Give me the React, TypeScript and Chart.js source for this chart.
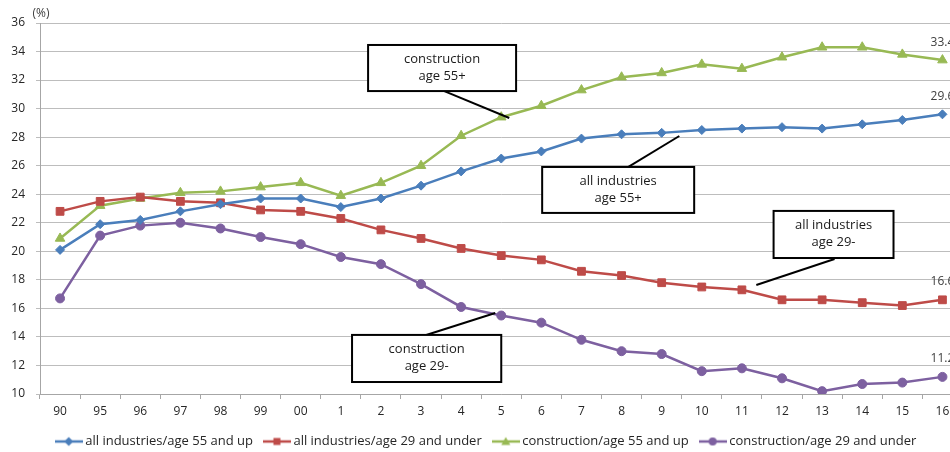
import React, { useEffect, useRef } from "react";
import { Chart, registerables } from "chart.js";

Chart.register(...registerables);

const years = ["90", "95", "96", "97", "98", "99", "00", "1", "2", "3", "4", "5", "6", "7", "8", "9", "10", "11", "12", "13", "14", "15", "16"];
const allIndustries55Up = [20.1, 21.9, 22.2, 22.8, 23.3, 23.7, 23.7, 23.1, 23.7, 24.6, 25.6, 26.5, 27.0, 27.9, 28.2, 28.3, 28.5, 28.6, 28.7, 28.6, 28.9, 29.2, 29.6];
const allIndustries29Under = [22.8, 23.5, 23.8, 23.5, 23.4, 22.9, 22.8, 22.3, 21.5, 20.9, 20.2, 19.7, 19.4, 18.6, 18.3, 17.8, 17.5, 17.3, 16.6, 16.6, 16.4, 16.2, 16.6];
const construction55Up = [20.9, 23.2, 23.7, 24.1, 24.2, 24.5, 24.8, 23.9, 24.8, 26.0, 28.1, 29.4, 30.2, 31.3, 32.2, 32.5, 33.1, 32.8, 33.6, 34.3, 34.3, 33.8, 33.4];
const construction29Under = [16.7, 21.1, 21.8, 22.0, 21.6, 21.0, 20.5, 19.6, 19.1, 17.7, 16.1, 15.5, 15.0, 13.8, 13.0, 12.8, 11.6, 11.8, 11.1, 10.2, 10.7, 10.8, 11.2];
const seriesNames = [
  "all industries/age 55 and up",
  "all industries/age 29 and under",
  "construction/age 55 and up",
  "construction/age 29 and under",
];
const yMin = 10;
const yMax = 36;
const yStep = 2;
const unitLabel = "(%)";

// Callout boxes in data space: [xIndexFrom, xIndexTo, yTop, yBottom], leader line from -> to
const callouts = [
  { lines: ["construction", "age 55+"], box: [7.68, 11.37, 34.46, 31.23], from: [9.58, 31.23], to: [11.2, 29.34] },
  { lines: ["all industries", "age 55+"], box: [12.02, 15.81, 25.91, 22.69], from: [14.17, 25.91], to: [15.44, 28.08] },
  { lines: ["all industries", "age 29-"], box: [17.79, 20.78, 22.83, 19.53], from: [19.31, 19.46], to: [17.36, 17.64] },
  { lines: ["construction", "age 29-"], box: [7.28, 11.0, 14.14, 10.84], from: [9.13, 14.14], to: [10.85, 15.68] },
];

const colors = ["#4A7EBB", "#BE4B48", "#98B954", "#7D60A0"];
const styles: any[] = ["rectRot", "rect", "triangle", "circle"];
const radii = [4.5, 5.5, 5.5, 4.5];
const FONT = "'Open Sans', 'DejaVu Sans', sans-serif";

function makeIcon(color: string, style: string): HTMLCanvasElement {
  const c = document.createElement("canvas");
  c.width = 28;
  c.height = 12;
  const ctx = c.getContext("2d")!;
  ctx.strokeStyle = color;
  ctx.fillStyle = color;
  ctx.lineWidth = 2.5;
  ctx.beginPath();
  ctx.moveTo(0, 6);
  ctx.lineTo(28, 6);
  ctx.stroke();
  const x = 14, y = 6;
  ctx.beginPath();
  if (style === "rectRot") {
    ctx.moveTo(x, y - 4.5);
    ctx.lineTo(x + 4.5, y);
    ctx.lineTo(x, y + 4.5);
    ctx.lineTo(x - 4.5, y);
  } else if (style === "rect") {
    ctx.rect(x - 3.5, y - 3.5, 7, 7);
  } else if (style === "triangle") {
    ctx.moveTo(x, y - 4.5);
    ctx.lineTo(x + 4.5, y + 3.5);
    ctx.lineTo(x - 4.5, y + 3.5);
  } else {
    ctx.arc(x, y, 4, 0, Math.PI * 2);
  }
  ctx.closePath();
  ctx.fill();
  return c;
}

const extrasPlugin = {
  id: "extras",
  afterDatasetsDraw(chart: any) {
    const { ctx, chartArea, scales } = chart;
    ctx.save();
    // unit label
    ctx.font = `12px ${FONT}`;
    ctx.fillStyle = "#404040";
    ctx.textAlign = "center";
    ctx.textBaseline = "middle";
    ctx.fillText(unitLabel, chartArea.left + 1, chartArea.top - 9);
    // last value labels
    chart.data.datasets.forEach((ds: any, i: number) => {
      const meta = chart.getDatasetMeta(i);
      const last = meta.data[meta.data.length - 1];
      const v = ds.data[ds.data.length - 1];
      ctx.fillText(v.toFixed(1), last.x, last.y - 18);
    });
    // callouts
    const xs = scales.x;
    const ys = scales.y;
    callouts.forEach((c) => {
      const x1 = xs.getPixelForValue(c.box[0]);
      const x2 = xs.getPixelForValue(c.box[1]);
      const y1 = ys.getPixelForValue(c.box[2]);
      const y2 = ys.getPixelForValue(c.box[3]);
      ctx.strokeStyle = "#000";
      ctx.lineWidth = 2;
      ctx.beginPath();
      ctx.moveTo(xs.getPixelForValue(c.from[0]), ys.getPixelForValue(c.from[1]));
      ctx.lineTo(xs.getPixelForValue(c.to[0]), ys.getPixelForValue(c.to[1]));
      ctx.stroke();
      ctx.fillStyle = "#fff";
      ctx.fillRect(x1, y1, x2 - x1, y2 - y1);
      ctx.strokeRect(x1, y1, x2 - x1, y2 - y1);
      ctx.fillStyle = "#1a1a1a";
      ctx.font = `13px ${FONT}`;
      const cx = (x1 + x2) / 2;
      const cy = (y1 + y2) / 2;
      ctx.fillText(c.lines[0], cx, cy - 9);
      ctx.fillText(c.lines[1], cx, cy + 8);
    });
    ctx.restore();
  },
};

export default function App() {
  const ref = useRef<HTMLCanvasElement | null>(null);
  useEffect(() => {
    if (!ref.current) return;
    const seriesData = [allIndustries55Up, allIndustries29Under, construction55Up, construction29Under];
    const icons = colors.map((c, i) => makeIcon(c, styles[i]));
    const chart = new Chart(ref.current, {
      type: "line",
      data: {
        labels: years,
        datasets: seriesData.map((d, i) => ({
          label: seriesNames[i],
          data: d,
          borderColor: colors[i],
          backgroundColor: colors[i],
          borderWidth: 2.5,
          pointStyle: styles[i],
          pointRadius: radii[i],
          pointBorderWidth: 1,
          tension: 0,
        })),
      },
      options: {
        animation: false,
        responsive: false,
        devicePixelRatio: 1,
        layout: { padding: { top: 22, left: 0, right: 0, bottom: 0 } },
        plugins: {
          tooltip: { enabled: false },
          legend: {
            position: "bottom",
            labels: {
              usePointStyle: true,
              pointStyleWidth: 20,
              padding: 14,
              color: "#262626",
              font: { family: FONT, size: 13 },
              generateLabels: (ch: any) => {
                const base = (Chart.defaults.plugins.legend.labels as any).generateLabels(ch);
                return base.map((l: any, i: number) => ({ ...l, pointStyle: icons[i] }));
              },
            },
          },
        },
        scales: {
          x: {
            offset: true,
            grid: {
              offset: true,
              drawOnChartArea: false,
              drawTicks: true,
              tickLength: 5,
              color: "#A6A6A6",
            },
            border: { color: "#A6A6A6", width: 1 },
            ticks: { color: "#262626", font: { family: FONT, size: 12 }, padding: 5, autoSkip: false, maxRotation: 0 },
            afterFit: (s: any) => {
              s.height = 27;
            },
          },
          y: {
            min: yMin,
            max: yMax,
            ticks: { stepSize: yStep, color: "#262626", font: { family: FONT, size: 12 }, padding: 11 },
            grid: { color: "#BDBDBD", tickLength: 4, lineWidth: 1 },
            border: { color: "#A6A6A6", width: 1 },
            afterFit: (s: any) => {
              s.width = 34;
            },
          },
        },
      },
      plugins: [extrasPlugin],
    });
    return () => chart.destroy();
  }, []);
  return (
    <div style={{ position: "absolute", left: 0, top: 0, width: 950, height: 452, overflow: "hidden", background: "#fff" }}>
      <canvas ref={ref} width={963} height={457} style={{ position: "absolute", left: 6, top: 1, width: 963, height: 457 }} />
    </div>
  );
}
